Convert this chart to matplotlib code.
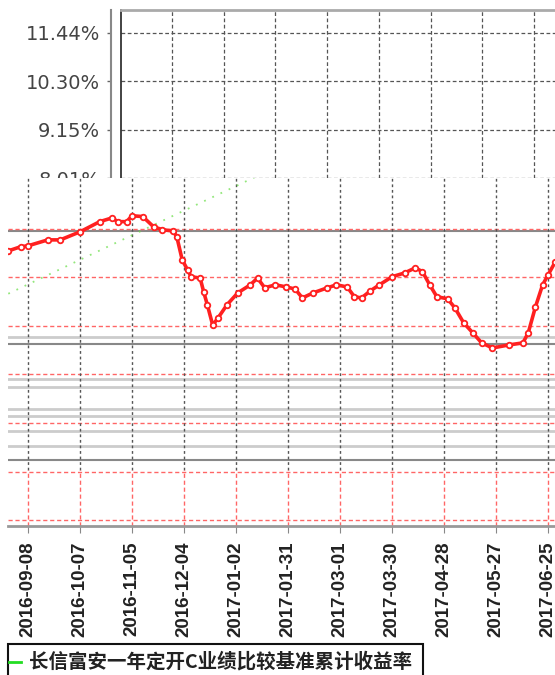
import matplotlib
matplotlib.use("Agg")
import matplotlib.pyplot as plt
import matplotlib.dates as mdates
from matplotlib.lines import Line2D
from matplotlib.patches import Rectangle
import pandas as pd

# fund cumulative return (%)
fund_dates = ["2016-08-28", "2016-09-04", "2016-09-08", "2016-09-19", "2016-09-26",
              "2016-10-07", "2016-10-18", "2016-10-25", "2016-10-28", "2016-11-02",
              "2016-11-05", "2016-11-11", "2016-11-17", "2016-11-22", "2016-11-28",
              "2016-11-30", "2016-12-03", "2016-12-06", "2016-12-08", "2016-12-13",
              "2016-12-15", "2016-12-17", "2016-12-20", "2016-12-23", "2016-12-28",
              "2017-01-03", "2017-01-10", "2017-01-14", "2017-01-18", "2017-01-24",
              "2017-01-30", "2017-02-04", "2017-02-08", "2017-02-14", "2017-02-22",
              "2017-02-27", "2017-03-05", "2017-03-09", "2017-03-13", "2017-03-18",
              "2017-03-23", "2017-03-30", "2017-04-06", "2017-04-12", "2017-04-16",
              "2017-04-20", "2017-04-24", "2017-04-30", "2017-05-04", "2017-05-09",
              "2017-05-14", "2017-05-19", "2017-05-25", "2017-06-03", "2017-06-11",
              "2017-06-14", "2017-06-18", "2017-06-22", "2017-06-25", "2017-06-29"]
fund_values = [6.35, 6.45, 6.47, 6.61, 6.61, 6.80, 7.04, 7.13, 7.04, 7.04,
               7.18, 7.16, 6.92, 6.85, 6.82, 6.68, 6.14, 5.90, 5.74, 5.71,
               5.38, 5.08, 4.60, 4.77, 5.08, 5.36, 5.55, 5.71, 5.48, 5.55,
               5.50, 5.45, 5.24, 5.36, 5.48, 5.55, 5.50, 5.27, 5.24, 5.41,
               5.55, 5.74, 5.83, 5.95, 5.86, 5.55, 5.27, 5.22, 5.01, 4.65,
               4.42, 4.18, 4.06, 4.13, 4.18, 4.42, 5.03, 5.55, 5.78, 6.09]

# benchmark cumulative return (%), faint green line
bench_dates = ["2016-08-28", "2017-01-20"]
bench_values = [5.34, 8.24]

tick_dates = ["2016-09-08", "2016-10-07", "2016-11-05", "2016-12-04", "2017-01-02",
              "2017-01-31", "2017-03-01", "2017-03-30", "2017-04-28", "2017-05-27",
              "2017-06-25"]
top_yticks = [8.01, 9.15, 10.30, 11.44]
bottom_grid = [0.0, 1.145, 2.29, 3.435, 4.58, 5.725, 6.87]
legend_label = "长信富安一年定开C业绩比较基准累计收益率"

# stray grey lines in the lower panel
dark_levels = [6.82, 4.16, 1.42]
light_levels = [4.32, 3.33, 3.14, 2.62, 2.46, 2.10, 1.75]

W, H = 555, 675
fig = plt.figure(figsize=(W / 100, H / 100), dpi=100)
fig.patch.set_facecolor("white")

def fx(px):
    return px / W

def fy(py):
    return 1 - py / H

ticks = mdates.date2num(pd.to_datetime(tick_dates))
day0 = ticks[0]

# ---- upper panel (only the y scale survives) ----
ax_top = fig.add_axes([fx(121), fy(178), fx(555 - 121), fy(10) - fy(178)])
# spine position first: it rebuilds the ticks
ax_top.spines["left"].set_position(("outward", 7))
ax_top.spines["left"].set_color("#888888")
ax_top.spines["left"].set_linewidth(1.5)
for s in ["right", "bottom"]:
    ax_top.spines[s].set_visible(False)
ax_top.spines["top"].set_color("#aaaaaa")
ax_top.spines["top"].set_linewidth(2)

ax_top.set_xticks(ticks)
ax_top.set_yticks(top_yticks)
ax_top.set_xlim(day0 - 28.6, day0 + 214.8)
ax_top.set_ylim(8.01, 11.98)
ax_top.tick_params(axis="x", length=0, labelbottom=False)
ax_top.tick_params(axis="y", length=3, width=1, color="#666666", pad=5,
                   labelsize=14, labelcolor="#444444")
ax_top.set_yticklabels(["%.2f%%" % v for v in top_yticks], family="DejaVu Sans")
ax_top.grid(True, color="#555555", linestyle=(0, (3, 2)), linewidth=0.9)
ax_top.axvline(day0 - 28.6, color="#222222", linewidth=1.2, clip_on=False)

# ---- lower panel ----
ax = fig.add_axes([fx(8), fy(526), fx(547), fy(178) - fy(526)])
ax.set_facecolor("white")
ax.set_xticks(ticks)
ax.set_xlim(day0 - 11.15, day0 + 293.9)
ax.set_ylim(-0.14, 8.07)

for v in light_levels:
    ax.axhline(v, color="#cccccc", linewidth=2, zorder=1)
for v in dark_levels:
    ax.axhline(v, color="#888888", linewidth=1.5, zorder=1)
for v in bottom_grid:
    ax.axhline(v, color="#ff6666", linestyle=(0, (3, 2)), linewidth=1, zorder=2)
for t in ticks:
    ax.axvline(t, ymin=0.16, ymax=1, color="#555555", linestyle=(0, (2, 2)),
               linewidth=1, zorder=2)
    ax.axvline(t, ymin=0, ymax=0.16, color="#ff6666", linestyle=(0, (3, 2)),
               linewidth=1, zorder=2)

ax.plot(mdates.date2num(pd.to_datetime(bench_dates)), bench_values,
        color="#66dd44", linestyle=(0, (1, 4)), linewidth=1.3, alpha=0.7, zorder=3)
ax.plot(mdates.date2num(pd.to_datetime(fund_dates)), fund_values,
        color="#ff2020", linewidth=2.6, marker="o", markersize=4,
        markerfacecolor="white", markeredgecolor="#ff2020", markeredgewidth=1.3,
        zorder=4)

for s in ["left", "right", "top"]:
    ax.spines[s].set_visible(False)
ax.spines["bottom"].set_color("#999999")
ax.spines["bottom"].set_linewidth(2)
ax.set_yticks([])
ax.tick_params(axis="x", length=5, color="#888888", pad=6)
ax.set_xticklabels(tick_dates, rotation=90, family="Liberation Sans",
                   fontweight="bold", fontsize=13.5, color="#222222")

# ---- legend box (cut off at the bottom) ----
fig.add_artist(Rectangle((fx(8), fy(700)), fx(415), fy(644) - fy(700),
                         transform=fig.transFigure, fill=False,
                         edgecolor="#111111", linewidth=1.5))
fig.add_artist(Line2D([fx(9), fx(21)], [fy(662), fy(662)],
                      transform=fig.transFigure, color="#22dd22", linewidth=2))
fig.text(fx(29), fy(662), legend_label, va="center", ha="left", fontsize=14,
         fontweight="bold", color="#222222",
         family=["Noto Sans CJK SC", "DejaVu Sans"])

fig.savefig("out.png", dpi=100)
